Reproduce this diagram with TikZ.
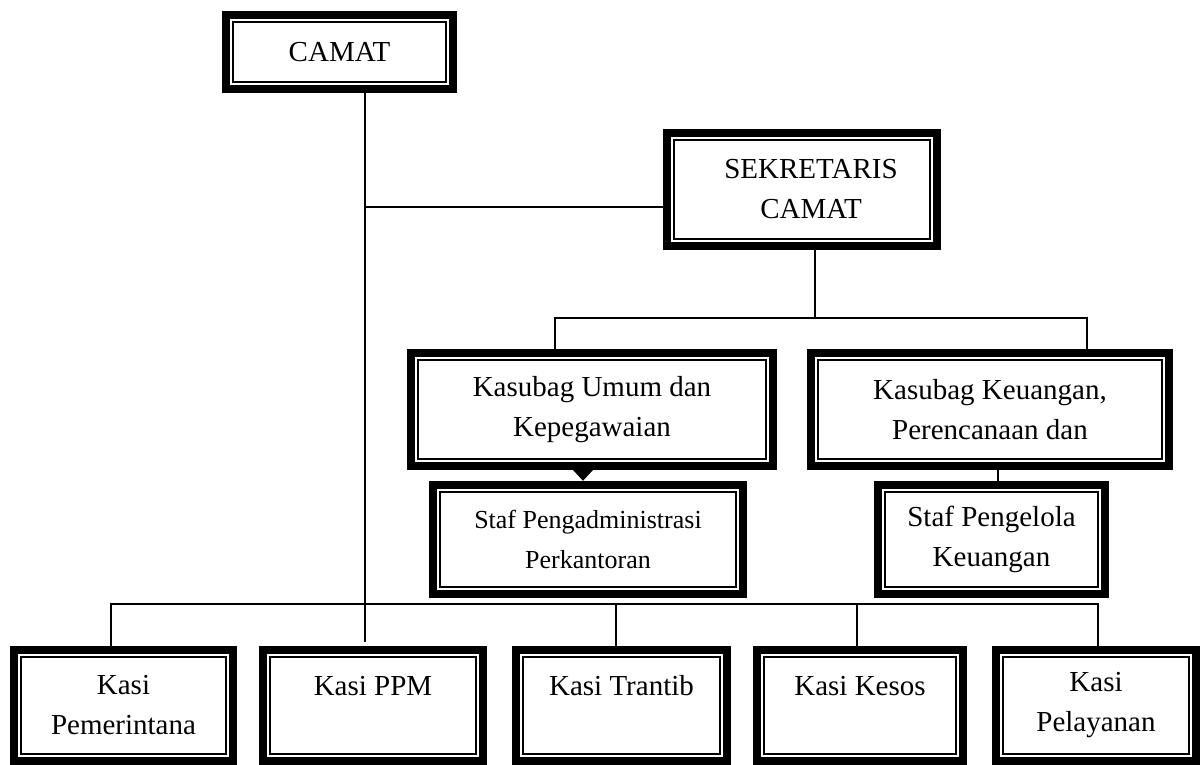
\documentclass[tikz,border=0pt]{standalone}
\usepackage{fontspec}
\setmainfont{Liberation Serif}
\usetikzlibrary{arrows.meta}
\newcommand\orgbox[7][29]{%
  \pgfmathsetmacro\obW{#5-#3}\pgfmathsetmacro\obH{#6-#4}%
  \pgfmathsetmacro\obX{(#3+#5)/2}\pgfmathsetmacro\obY{(#4+#6)/2}%
  \node[orgnode, minimum width=\obW pt, minimum height=\obH pt,
        font=\fontsize{#1pt}{40pt}\selectfont] (#2) at (\obX,\obY) {#7};
  \draw[line width=8pt] ([xshift=4pt,yshift=-4pt]#2.north west) rectangle ([xshift=-4pt,yshift=4pt]#2.south east);
  \draw[line width=1.6pt] ([xshift=11pt,yshift=-11pt]#2.north west) rectangle ([xshift=-11pt,yshift=11pt]#2.south east);
}
\begin{document}
\begin{tikzpicture}[x=1pt,y=-1pt,
  orgnode/.style={rectangle, draw=none, inner sep=0pt, align=center},
  conn/.style={line width=1.5pt}]
\useasboundingbox (0,0) rectangle (1204,765);
\fill[white] (0,0) rectangle (1204,765);

\orgbox{camat}{222}{11}{457}{93}{CAMAT}
\orgbox{sek}{663}{129}{941}{250}{\hspace*{18pt}SEKRETARIS\\\hspace*{18pt}CAMAT}
\orgbox{kU}{407}{349}{777}{470}{Kasubag Umum dan\\Kepegawaian}
\orgbox{kK}{807}{349}{1173}{470}{Kasubag Keuangan,\\Perencanaan dan}
\orgbox[26]{sA}{429}{481}{747}{598}{Staf Pengadministrasi\\Perkantoran}
\orgbox{sP}{874}{481}{1109}{598}{Staf Pengelola\\Keuangan}
\orgbox{k1}{10}{646}{237}{765}{Kasi\\Pemerintana}
\orgbox{k2}{259}{646}{487}{765}{Kasi PPM\\~}
\orgbox{k3}{512}{646}{731}{765}{Kasi Trantib\\~}
\orgbox{k4}{753}{646}{967}{765}{Kasi Kesos\\~}
\orgbox{k5}{992}{646}{1200}{765}{Kasi\\Pelayanan}

\coordinate (camatEnd) at (365,642);
\coordinate (sekJ) at (365,207);
\coordinate (sekDown) at (815,318);
\coordinate (midL) at (555,318);
\coordinate (midR) at (1087,318);
\coordinate (triX) at (583,0);
\coordinate (kkX) at (998,0);
\coordinate (botL) at (111,604);
\coordinate (botR) at (1098,604);
\coordinate (botT) at (616,604);
\coordinate (botK) at (857,604);

\draw[conn] (camatEnd |- camat.south) -- (camatEnd);
\draw[conn] (sekJ) -- (sekJ -| sek.west);
\draw[conn] (sekDown |- sek.south) -- (sekDown);
\draw[conn] (midL |- kU.north) -- (midL) -- (midR) -- (midR |- kK.north);
\draw[conn, -{Triangle[width=20pt,length=11pt]}] (triX |- kU.south) -- (triX |- sA.north);
\draw[conn] (kkX |- kK.south) -- (kkX |- sP.north);
\draw[conn] (botL |- k1.north) -- (botL) -- (botR) -- (botR |- k5.north);
\draw[conn] (botT) -- (botT |- k3.north);
\draw[conn] (botK) -- (botK |- k4.north);
\end{tikzpicture}
\end{document}
